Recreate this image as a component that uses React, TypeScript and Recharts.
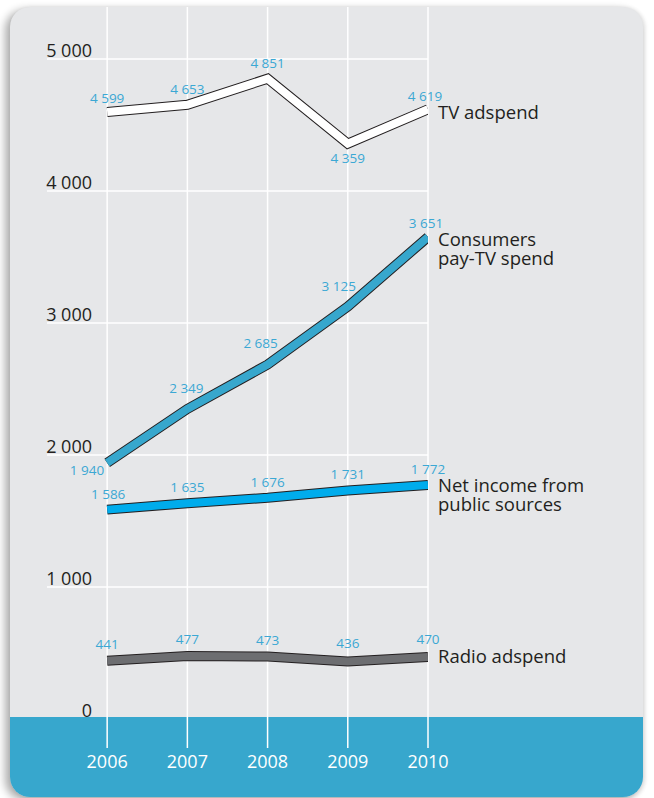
import React from "react";
import { LineChart, Line, XAxis, YAxis, CartesianGrid } from "recharts";

const years = [2006, 2007, 2008, 2009, 2010];
const tvAdspend = [4599, 4653, 4851, 4359, 4619];
const consumersPayTv = [1940, 2349, 2685, 3125, 3651];
const netIncomePublic = [1586, 1635, 1676, 1731, 1772];
const radioAdspend = [441, 477, 473, 436, 470];
const yTicks = [0, 1000, 2000, 3000, 4000, 5000];
const gridValues = [1000, 2000, 3000, 4000, 5000];

const seriesKeys = ["tv", "consumers", "net", "radio"];
const seriesNames = [
  ["TV adspend"],
  ["Consumers", "pay-TV spend"],
  ["Net income from", "public sources"],
  ["Radio adspend"],
];
const seriesValues = [tvAdspend, consumersPayTv, netIncomePublic, radioAdspend];

const data = years.map((year, i) => {
  const row: Record<string, number> = { year };
  seriesKeys.forEach((k, s) => {
    row[k] = seriesValues[s][i];
  });
  return row;
});

// styling
const FONT = "'Open Sans', 'Noto Sans', sans-serif";
const LABEL_COLOR = "#3ba8d4";
const TEXT_COLOR = "#231f20";
const OUTLINE = "#231f20";
const fills = ["#ffffff", "#37a7cd", "#00acec", "#6d6e71"];
type Place = { dx: number; dy: number; anchor?: "start" | "middle" | "end" };
const placements: Place[][] = [
  [
    { dx: 0, dy: -9 },
    { dx: 0, dy: -10.5 },
    { dx: 0, dy: -10.5 },
    { dx: 0, dy: 19.5 },
    { dx: -3, dy: -8 },
  ],
  [
    { dx: -3, dy: 12, anchor: "end" },
    { dx: -1, dy: -16 },
    { dx: -7, dy: -17 },
    { dx: -9, dy: -15 },
    { dx: -2, dy: -9 },
  ],
  [
    { dx: 1, dy: -10.5 },
    { dx: 0, dy: -11 },
    { dx: 0, dy: -10.5 },
    { dx: 0, dy: -11 },
    { dx: 0, dy: -11 },
  ],
  [
    { dx: 0, dy: -11.5 },
    { dx: 0, dy: -12 },
    { dx: 0, dy: -12 },
    { dx: 0, dy: -13.5 },
    { dx: 0, dy: -13 },
  ],
];
const nameDy = [10, 9, 7, 6];

const fmt = (v: number) => {
  const s = String(v);
  if (s.length <= 3) return s;
  return s.slice(0, s.length - 3) + " " + s.slice(s.length - 3);
};

const makeLabel = (s: number) => (props: any) => {
  const { x, y, value, index } = props;
  const p = placements[s][index];
  const isLast = index === years.length - 1;
  return (
    <g key={`lbl-${s}-${index}`}>
      <text
        x={x + p.dx}
        y={y + p.dy}
        textAnchor={p.anchor || "middle"}
        fill={LABEL_COLOR}
        fontSize={13.5}
        fontFamily={FONT}
      >
        {fmt(value)}
      </text>
      {isLast &&
        seriesNames[s].map((line, li) => (
          <text
            key={li}
            x={x + 10}
            y={y + nameDy[s] + li * 19}
            fill={TEXT_COLOR}
            fontSize={18.5}
            fontFamily={FONT}
          >
            {line}
          </text>
        ))}
    </g>
  );
};

const YTick = (props: any) => {
  const { x, y, payload } = props;
  return (
    <text x={x + 45} y={y - 2} textAnchor="end" fill={TEXT_COLOR} fontSize={18} fontFamily={FONT}>
      {fmt(payload.value)}
    </text>
  );
};

const XTick = (props: any) => {
  const { x, y, payload } = props;
  return (
    <text x={x} y={y + 20} textAnchor="middle" fill="#ffffff" fontSize={18} fontFamily={FONT}>
      {payload.value}
    </text>
  );
};

export default function App() {
  return (
    <div style={{ position: "relative", width: 654, height: 798, background: "#ffffff", overflow: "hidden" }}>
      <style>{`body{margin:0}`}</style>
      <div
        style={{
          position: "absolute",
          left: 10,
          top: 7,
          width: 633,
          height: 790,
          borderRadius: 20,
          background: "#e6e7e9",
          boxShadow: "-5px 3px 8px rgba(0,0,0,0.32), 2px 1px 4px rgba(0,0,0,0.12)",
          overflow: "hidden",
        }}
      >
        <div
          style={{
            position: "absolute",
            left: 0,
            top: 710,
            width: 633,
            height: 80,
            background: "#37a7cd",
          }}
        />
      </div>
      <div style={{ position: "absolute", left: 0, top: 0 }}>
        <LineChart
          width={654}
          height={798}
          data={data}
          margin={{ top: 7, right: 226, bottom: 20, left: 0 }}
        >
          <CartesianGrid
            stroke="#ffffff"
            strokeWidth={1.5}
            horizontalValues={gridValues}
            verticalValues={years}
          />
          <XAxis
            dataKey="year"
            type="number"
            domain={[2005.25, 2010]}
            ticks={years}
            axisLine={false}
            tickLine={false}
            tickSize={0}
            tickMargin={0}
            height={30}
            tick={<XTick />}
            allowDataOverflow
          />
          <YAxis
            type="number"
            domain={[-220, 5394]}
            ticks={yTicks}
            width={47}
            axisLine={false}
            tickLine={false}
            tickSize={0}
            tickMargin={0}
            tick={<YTick />}
            allowDataOverflow
          />
          {seriesKeys.map((k, s) => (
            <Line
              key={`o-${k}`}
              dataKey={k}
              stroke={OUTLINE}
              strokeWidth={10}
              strokeLinecap="butt"
              strokeLinejoin="miter"
              dot={false}
              activeDot={false}
              isAnimationActive={false}
              type="linear"
            />
          ))}
          {seriesKeys.map((k, s) => (
            <Line
              key={`f-${k}`}
              dataKey={k}
              stroke={fills[s]}
              strokeWidth={8}
              strokeLinecap="butt"
              strokeLinejoin="miter"
              dot={false}
              activeDot={false}
              isAnimationActive={false}
              type="linear"
              label={makeLabel(s)}
            />
          ))}
        </LineChart>
      </div>
    </div>
  );
}
